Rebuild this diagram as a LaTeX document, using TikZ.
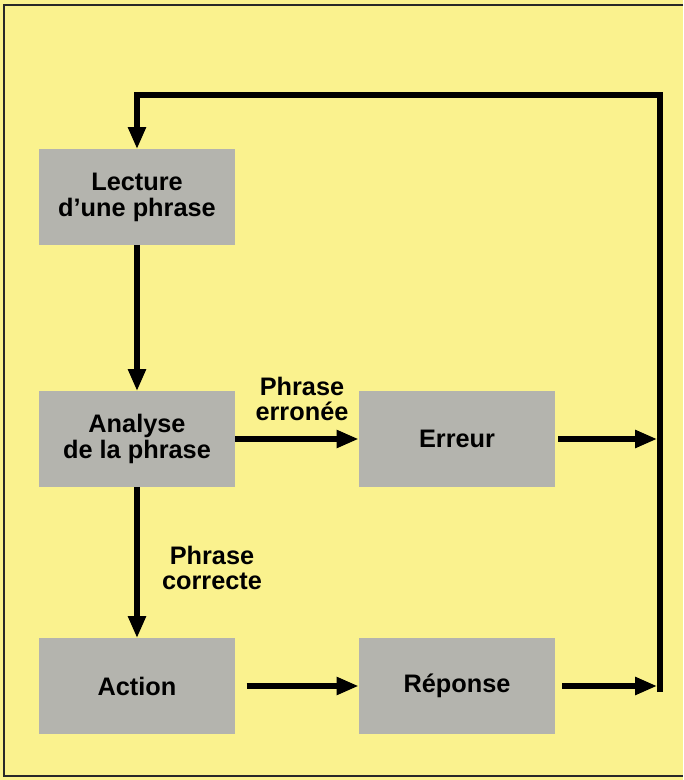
\documentclass[tikz,border=0pt]{standalone}
\usepackage{fontspec}
\setmainfont{Liberation Sans}
\usetikzlibrary{arrows.meta, positioning}

\definecolor{fond}{RGB}{250,242,142}
\definecolor{boite}{RGB}{180,180,174}
\definecolor{cadre}{RGB}{40,40,40}

\begin{document}
\begin{tikzpicture}[x=0.025cm, y=-0.025cm,
        bloc/.style={fill=boite, minimum width=4.9cm, minimum height=2.375cm, align=center,
            font=\bfseries\fontsize{18}{18.5}\selectfont},
        etiq/.style={align=center, font=\bfseries\fontsize{18}{17.5}\selectfont},
        fleche/.style={line width=4.3pt, line join=miter, -{Triangle[length=0.55cm, width=0.42cm]}}]
        % Fond
        \useasboundingbox (0,0) rectangle (683,780);
        \fill[fond] (0,0) rectangle (683,780);
        \draw[cadre, line width=1pt] (683,5) -- (4,5) -- (4,776) -- (683,776);

        % Blocs
        \node[bloc] (lecture) at (137,197) {Lecture\\d’une phrase};
        \node[bloc] (analyse) at (137,439) {Analyse\\de la phrase};
        \node[bloc] (erreur) at (457,439) {Erreur};
        \node[bloc] (action) at (137,686) {Action};
        \node[bloc] (reponse) at (457,686) {Réponse};

        % Retour
        \coordinate (bas) at (660,692);
        \coordinate (haut) at (660,95);
        \draw[fleche] (bas) -- (haut) -| (lecture.north);

        % Fleches
        \draw[fleche] (lecture) -- (analyse);
        \draw[fleche] (analyse) -- (erreur);
        \draw[fleche] (analyse) -- (action);
        \draw[fleche, shorten <=8pt] (action) -- (reponse);
        \draw[fleche, shorten <=2pt, shorten >=2pt] (erreur.east) -- (erreur.east -| bas);
        \draw[fleche, shorten <=5pt, shorten >=2pt] (reponse.east) -- (reponse.east -| bas);

        % Etiquettes
        \node[etiq] (erronee) at (302,399) {Phrase\\erronée};
        \node[etiq] (correcte) at (212,568) {Phrase\\correcte};

    \end{tikzpicture}
\end{document}
